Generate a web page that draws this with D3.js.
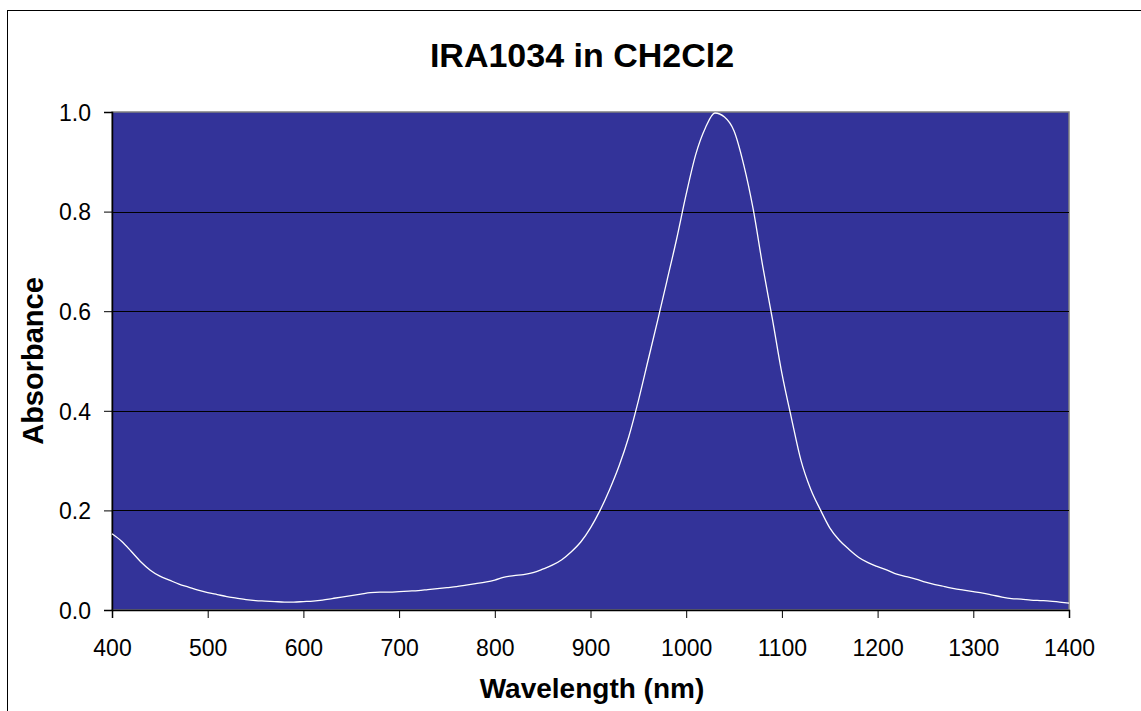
<!DOCTYPE html>
<html>
<head>
<meta charset="utf-8">
<script src="https://cdn.jsdelivr.net/npm/d3@7"></script>
<style>
  body { margin: 0; background: #fff; }
  svg { display: block; font-family: "Liberation Sans", Arial, sans-serif; }
</style>
</head>
<body>
<div class="chart"></div>
<script>
// wavelength (nm) and absorbance, 10 nm steps
const wavelengths = d3.range(400, 1401, 10);
const absorbance = [
  0.153, 0.138, 0.118, 0.097, 0.080, 0.068, 0.060, 0.052, 0.046, 0.040,
  0.035, 0.031, 0.027, 0.024, 0.021, 0.019, 0.018, 0.017, 0.016, 0.016,
  0.017, 0.018, 0.020, 0.023, 0.026, 0.029, 0.032, 0.035, 0.036, 0.036,
  0.037, 0.038, 0.039, 0.041, 0.043, 0.045, 0.047, 0.050, 0.053, 0.056,
  0.060, 0.066, 0.069, 0.071, 0.075, 0.082, 0.090, 0.101, 0.117, 0.137,
  0.165, 0.200, 0.242, 0.290, 0.348, 0.420, 0.500, 0.580, 0.662, 0.745,
  0.835, 0.915, 0.968, 0.998, 0.990, 0.962, 0.895, 0.805, 0.690, 0.585,
  0.475, 0.385, 0.300, 0.243, 0.202, 0.165, 0.140, 0.122, 0.106, 0.095,
  0.087, 0.080, 0.072, 0.067, 0.062, 0.056, 0.051, 0.047, 0.043, 0.040,
  0.037, 0.034, 0.030, 0.026, 0.023, 0.022, 0.020, 0.019, 0.018, 0.016,
  0.014
];
const xTicks = [400, 500, 600, 700, 800, 900, 1000, 1100, 1200, 1300, 1400];
const yTicks = [0, 0.2, 0.4, 0.6, 0.8, 1.0];

const chartTitle = "IRA1034 in CH2Cl2";
const xTitle = "Wavelength (nm)";
const yTitle = "Absorbance";

const W = 1141, H = 711;
const margin = { top: 112, right: 72, bottom: 101, left: 112 };
const width = W - margin.left - margin.right;
const height = H - margin.top - margin.bottom;

const data = wavelengths.map((w, i) => ({ w: w, a: absorbance[i] }));

const svg = d3.select(".chart").append("svg")
  .attr("width", W)
  .attr("height", H);

// chart area border (runs off the right and bottom edges)
svg.append("rect")
  .attr("x", 7.5).attr("y", 10.5)
  .attr("width", W + 10).attr("height", H + 10)
  .attr("fill", "#fff")
  .attr("stroke", "#000")
  .attr("stroke-width", 1);

const g = svg.append("g")
  .attr("transform", "translate(" + margin.left + "," + margin.top + ")");

const x = d3.scaleLinear().domain([400, 1400]).range([0, width]);
const y = d3.scaleLinear().domain([0, 1]).range([height, 0]);

// plot area
g.append("rect")
  .attr("width", width).attr("height", height)
  .attr("fill", "#333399")
  .attr("stroke", "#808080")
  .attr("stroke-width", 1.5);

// gridlines
g.append("g")
  .selectAll("line")
  .data(yTicks.filter((t) => t > 0 && t < 1))
  .join("line")
  .attr("x1", 0).attr("x2", width)
  .attr("y1", (d) => Math.round(y(d)) + 0.5)
  .attr("y2", (d) => Math.round(y(d)) + 0.5)
  .attr("stroke", "#000")
  .attr("stroke-width", 1);

// axes
const xAxis = g.append("g")
  .attr("transform", "translate(0," + height + ")")
  .call(d3.axisBottom(x).tickValues(xTicks).tickSize(8).tickPadding(22).tickFormat(d3.format("d")));

const yAxis = g.append("g")
  .call(d3.axisLeft(y).tickValues(yTicks).tickSize(8).tickPadding(13).tickFormat(d3.format(".1f")));

[xAxis, yAxis].forEach((ax) => {
  ax.select(".domain").attr("stroke", "#000").attr("stroke-width", 1.5);
  ax.selectAll(".tick line").attr("stroke", "#000");
  ax.selectAll(".tick text")
    .attr("fill", "#000")
    .style("font-family", "'Liberation Sans', Arial, sans-serif")
    .style("font-size", "23px");
});
yAxis.selectAll(".tick text").attr("dy", "0.36em");

// spectrum
g.append("path")
  .datum(data)
  .attr("fill", "none")
  .attr("stroke", "#fff")
  .attr("stroke-width", 1.3)
  .attr("d", d3.line()
    .x((d) => x(d.w))
    .y((d) => y(d.a))
    .curve(d3.curveMonotoneX));

// titles
svg.append("text")
  .attr("x", 582).attr("y", 67)
  .attr("text-anchor", "middle")
  .style("font-size", "34px")
  .style("font-weight", "bold")
  .text(chartTitle);

svg.append("text")
  .attr("x", 592).attr("y", 698)
  .attr("text-anchor", "middle")
  .style("font-size", "28px")
  .style("font-weight", "bold")
  .text(xTitle);

svg.append("text")
  .attr("transform", "translate(43,361) rotate(-90)")
  .attr("text-anchor", "middle")
  .style("font-size", "29px")
  .style("font-weight", "bold")
  .text(yTitle);
</script>
</body>
</html>
